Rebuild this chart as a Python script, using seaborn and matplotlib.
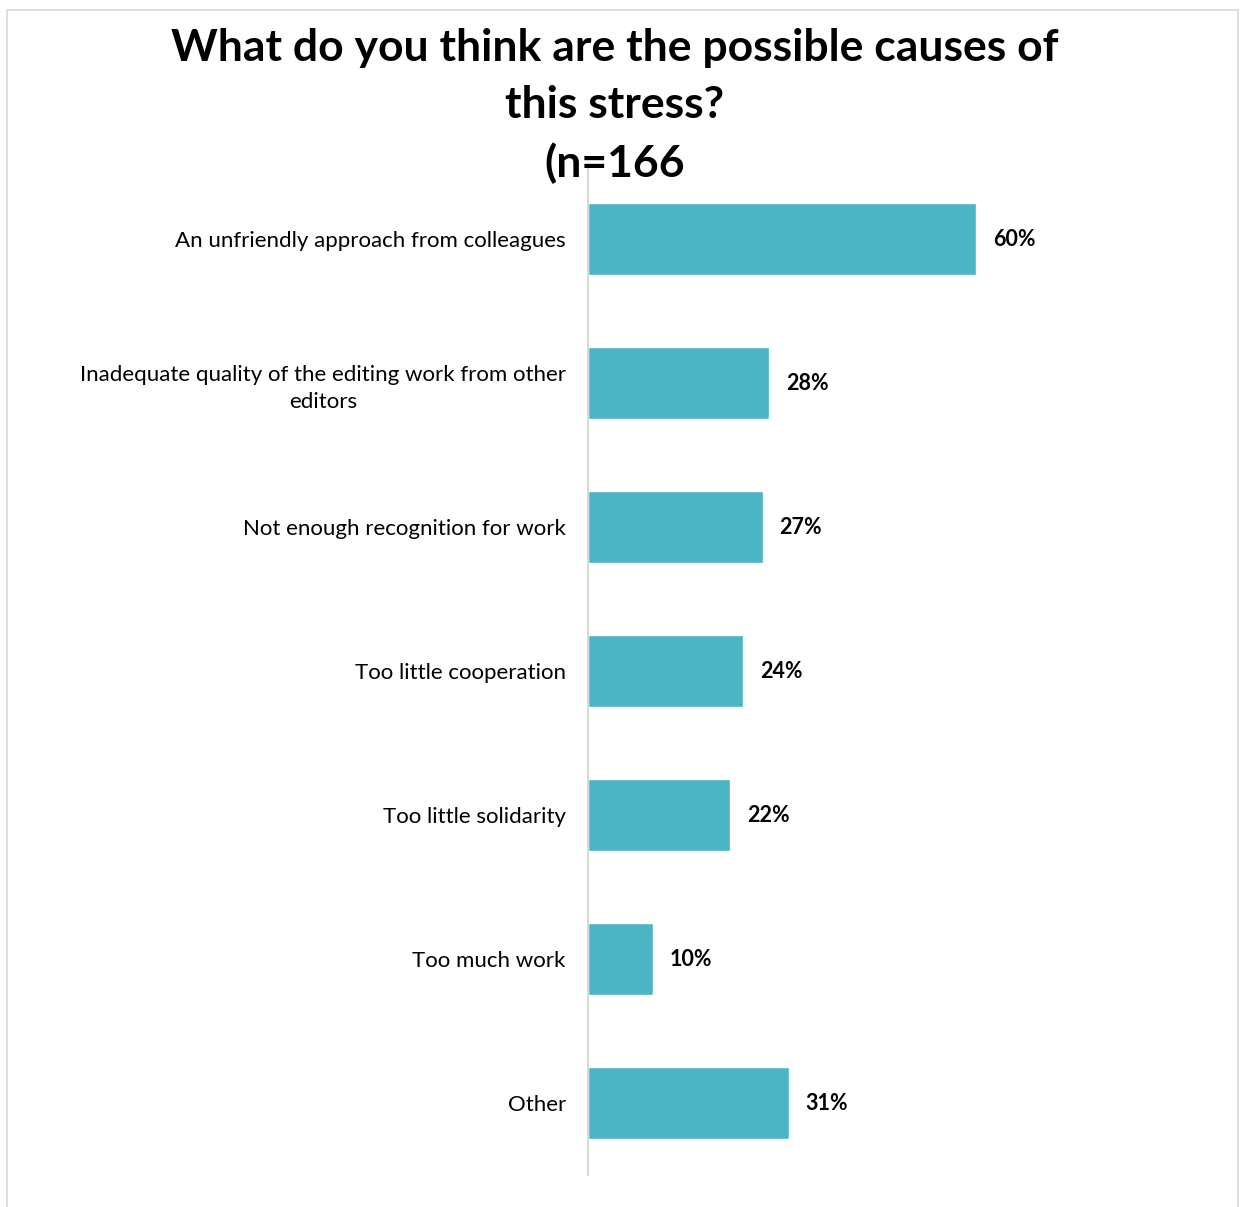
import matplotlib
matplotlib.use("Agg")
import matplotlib.pyplot as plt
import seaborn as sns
import pandas as pd
from matplotlib.patches import Rectangle

categories = [
    "An unfriendly approach from colleagues",
    "Inadequate quality of the editing work from other\neditors",
    "Not enough recognition for work",
    "Too little cooperation",
    "Too little solidarity",
    "Too much work",
    "Other",
]
values = [60, 28, 27, 24, 22, 10, 31]
value_labels = ["60%", "28%", "27%", "24%", "22%", "10%", "31%"]
title = "What do you think are the possible causes of\nthis stress?\n(n=166"

sns.set_theme(style="white")
plt.rcParams["font.family"] = ["Lato", "DejaVu Sans"]

df = pd.DataFrame({"cat": categories, "val": values})

fig = plt.figure(figsize=(12.43, 12.07), dpi=100)
W, H = 1243, 1207
ax = fig.add_axes([588 / W, 1 - 1175 / H, (1235 - 588) / W, (1175 - 167) / H])

sns.barplot(data=df, x="val", y="cat", orient="h", color="#4BB5C5",
            saturation=1, width=0.5, ax=ax)

ax.set_xlim(0, 100)
ax.set_ylim(len(categories) - 0.5, -0.5)
ax.set_xlabel("")
ax.set_ylabel("")
ax.set_xticks([])
for s in ["top", "right", "bottom"]:
    ax.spines[s].set_visible(False)
ax.spines["left"].set_color("#D9D9D9")
ax.spines["left"].set_linewidth(1.5)
ax.tick_params(axis="y", length=0, pad=16)
for lbl in ax.get_yticklabels():
    lbl.set_fontsize(16)
    lbl.set_color("#000000")
    lbl.set_multialignment("center")
    lbl.set_linespacing(1.45)

ax.bar_label(ax.containers[0], labels=value_labels, padding=12,
             fontsize=15.5, fontweight="bold", color="#000000")

fig.text(615 / W, 1 - 106 / H, title, ha="center", va="center",
         fontsize=32, fontweight="bold", color="#000000", linespacing=1.5)

fig.patches.append(Rectangle((7 / W, -0.01), (1238 - 7) / W, 1 - 10 / H + 0.01,
                             transform=fig.transFigure, fill=False,
                             edgecolor="#D9D9D9", linewidth=1.2))

fig.savefig("out.png", dpi=100, facecolor="white")
